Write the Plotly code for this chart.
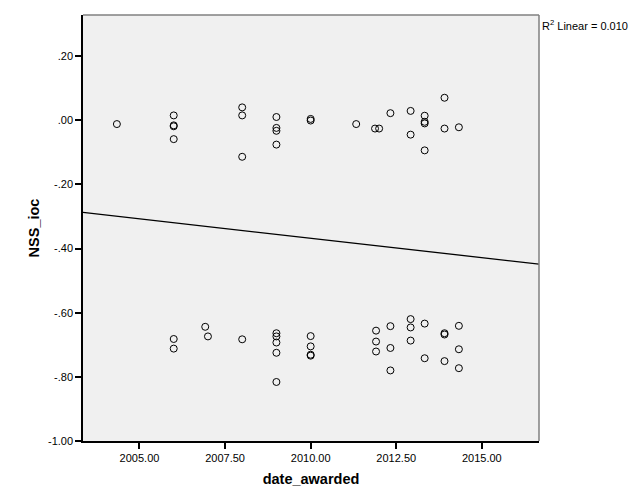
import plotly.graph_objects as go

# Data
date_awarded = [
    2004.34, 2006.0, 2006.0, 2006.0, 2006.0, 2008.0, 2008.0, 2008.0,
    2009.0, 2009.0, 2009.0, 2009.0, 2010.0, 2010.0, 2011.33, 2011.88, 2012.0,
    2012.33, 2012.92, 2012.92, 2013.33, 2013.33, 2013.33, 2013.33, 2013.91,
    2013.91, 2014.33,
    2006.0, 2006.0, 2006.92, 2007.0, 2008.0,
    2009.0, 2009.0, 2009.0, 2009.0, 2009.0,
    2010.0, 2010.0, 2010.0, 2010.0,
    2011.91, 2011.91, 2011.91,
    2012.33, 2012.33, 2012.33,
    2012.92, 2012.92, 2012.92,
    2013.33, 2013.33,
    2013.91, 2013.91, 2013.91,
    2014.33, 2014.33, 2014.33,
]
nss_ioc = [
    -0.012, 0.015, -0.016, -0.019, -0.059, 0.040, 0.015, -0.114,
    0.010, -0.024, -0.033, -0.076, 0.004, -0.001, -0.012, -0.026, -0.026,
    0.022, 0.029, -0.045, 0.014, -0.005, -0.010, -0.094, 0.070,
    -0.026, -0.022,
    -0.682, -0.712, -0.644, -0.674, -0.683,
    -0.664, -0.674, -0.693, -0.725, -0.816,
    -0.673, -0.705, -0.731, -0.734,
    -0.656, -0.690, -0.721,
    -0.642, -0.710, -0.780,
    -0.620, -0.646, -0.687,
    -0.634, -0.742,
    -0.664, -0.668, -0.751,
    -0.641, -0.714, -0.773,
]

# Linear fit line (as drawn in the reference)
fit_x = [2003.35, 2016.67]
fit_y = [-0.2875, -0.4486]
r2_text = "R<sup>2</sup> Linear = 0.010"

x_ticks = [2005.0, 2007.5, 2010.0, 2012.5, 2015.0]
x_tick_labels = ["2005.00", "2007.50", "2010.00", "2012.50", "2015.00"]
y_ticks = [0.2, 0.0, -0.2, -0.4, -0.6, -0.8, -1.0]
y_tick_labels = [".20", ".00", "-.20", "-.40", "-.60", "-.80", "-1.00"]

x_range = [2003.35, 2016.67]
y_range = [-1.0, 0.328]

font_family = "Liberation Sans, Arial, sans-serif"

fig = go.Figure()
fig.add_trace(go.Scatter(
    x=fit_x, y=fit_y, mode="lines",
    line=dict(color="black", width=1.3),
    hoverinfo="skip", showlegend=False,
))
fig.add_trace(go.Scatter(
    x=date_awarded, y=nss_ioc, mode="markers",
    marker=dict(symbol="circle-open", size=7, color="black",
                line=dict(color="black", width=1)),
    showlegend=False,
))

fig.update_layout(
    width=635, height=495,
    margin=dict(l=83, r=96, t=15, b=54),
    paper_bgcolor="white",
    plot_bgcolor="#F0F0F0",
    font=dict(family=font_family, size=11, color="black"),
    showlegend=False,
    shapes=[
        dict(type="line", xref="paper", yref="paper", x0=0, x1=1, y0=1, y1=1,
             line=dict(color="#808080", width=1.5)),
        dict(type="line", xref="paper", yref="paper", x0=1, x1=1, y0=0, y1=1,
             line=dict(color="#808080", width=1.5)),
    ],
    annotations=[
        dict(text=r2_text, xref="paper", yref="paper", x=1.002, y=1.0,
             xanchor="left", yanchor="top", showarrow=False,
             font=dict(family=font_family, size=11, color="black"),
             yshift=-1),
    ],
)

fig.update_xaxes(
    range=x_range, tickvals=x_ticks, ticktext=x_tick_labels,
    showgrid=False, zeroline=False, automargin=False,
    showline=True, linecolor="black", linewidth=1.5,
    ticks="outside", ticklen=6, tickcolor="black", tickwidth=1.5,
    tickfont=dict(family=font_family, size=11),
    title=dict(text="<b>date_awarded</b>", standoff=11,
               font=dict(family=font_family, size=14.5)),
)
fig.update_yaxes(
    range=y_range, tickvals=y_ticks, ticktext=y_tick_labels,
    showgrid=False, zeroline=False, automargin=False,
    showline=True, linecolor="black", linewidth=1.5,
    ticks="outside", ticklen=6, tickcolor="black", tickwidth=1.5,
    tickfont=dict(family=font_family, size=11),
    title=dict(text="<b>NSS_ioc</b>", standoff=5,
               font=dict(family=font_family, size=14.5)),
)

fig.write_html(
    "out.html",
    config={"displayModeBar": False},
    post_script="document.body.style.margin='0';"
                "document.documentElement.style.overflow='hidden';",
)
